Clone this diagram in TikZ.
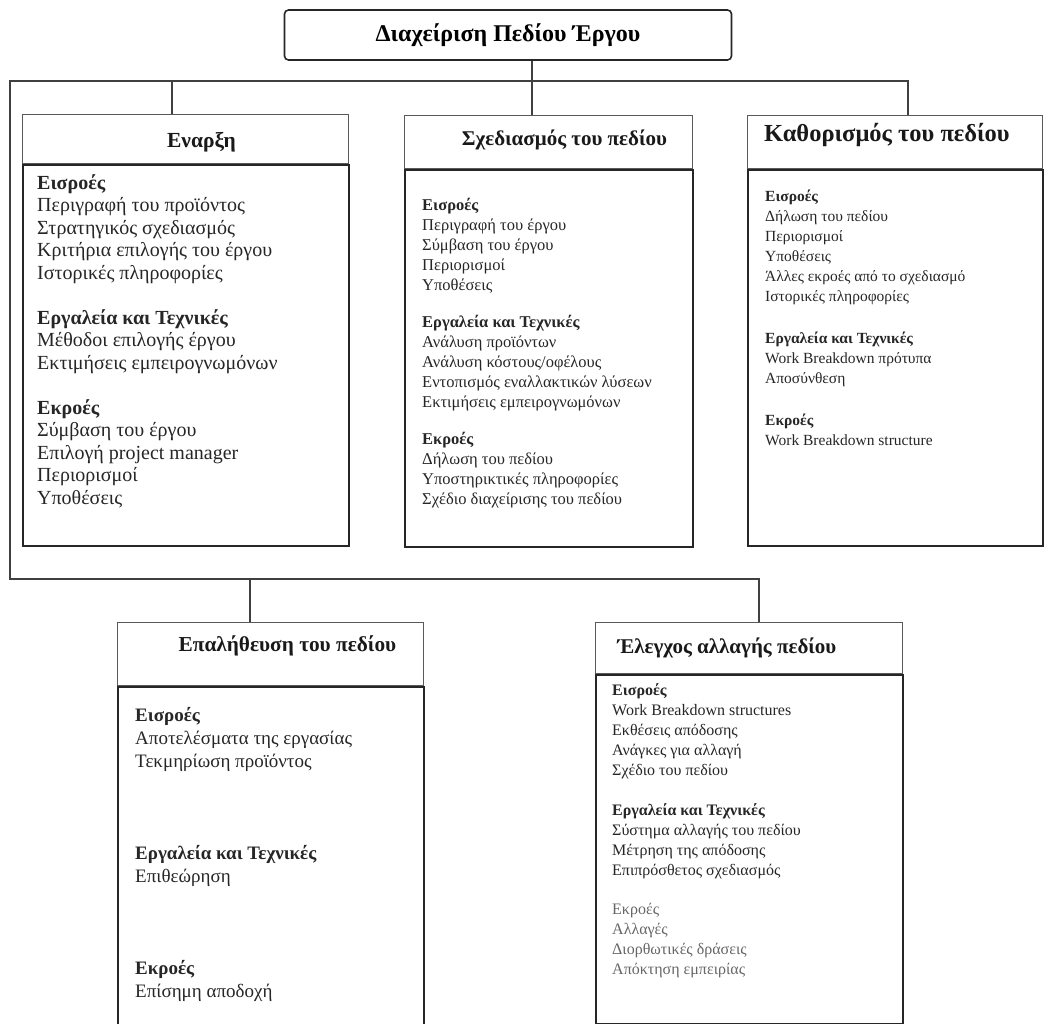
\documentclass[tikz,border=0pt]{standalone}
\usepackage{fontspec}
\setmainfont{Liberation Serif}
\usetikzlibrary{positioning}

\tikzset{
  hdr/.style={draw=black!65, line width=0.9pt, anchor=north west, inner sep=0pt},
  htxt/.style={inner sep=0pt, text=black!90},
  bodybox/.style={draw=black!85, line width=1.8pt, anchor=north west, inner sep=0pt},
  items/.style={anchor=north west, align=left, inner sep=0pt, text=black!85},
  link/.style={draw=black!75, line width=1.2pt},
  ttl/.style={draw=black!85, line width=1.6pt, rounded corners=4pt, inner sep=0pt,
    minimum width=447pt, minimum height=50pt, font=\bfseries\fontsize{24}{28}\selectfont},
}
\newcommand{\grp}[1]{\textbf{#1}}
\newcommand{\hfnt}[1]{\bfseries\fontsize{#1}{26}\selectfont}

\begin{document}
\begin{tikzpicture}[x=1pt,y=-1pt]
  \useasboundingbox (0,0) rectangle (1044,1024);

  % title
  \node[ttl] (tt) at (508,35) {Διαχείριση Πεδίου Έργου};

  % top row
  \node[hdr, minimum width=326pt, minimum height=49pt,
    label={[htxt, font=\hfnt{21.5}, xshift=16pt, yshift=-3pt]center:Εναρξη}] (enH) at (22,114) {};
  \node[bodybox, minimum width=326pt, minimum height=381pt] (enB) at (enH.south west) {};
  \node[items, font=\fontsize{20}{22.5}\selectfont] (enL) at (37,174)
    {\grp{Εισροές}\\ Περιγραφή του προϊόντος\\ Στρατηγικός σχεδιασμός\\
     Κριτήρια επιλογής του έργου\\ Ιστορικές πληροφορίες\\[22.5pt]
     \grp{Εργαλεία και Τεχνικές}\\ Μέθοδοι επιλογής έργου\\ Εκτιμήσεις εμπειρογνωμόνων\\[22.5pt]
     \grp{Εκροές}\\ Σύμβαση του έργου\\ Επιλογή project manager\\ Περιορισμοί\\ Υποθέσεις};

  \node[hdr, minimum width=288pt, minimum height=53pt,
    label={[htxt, font=\hfnt{21}, xshift=16pt, yshift=2pt]center:Σχεδιασμός του πεδίου}] (sxH) at (404,115) {};
  \node[bodybox, minimum width=288pt, minimum height=377pt] (sxB) at (sxH.south west) {};
  \node[items, font=\fontsize{16.5}{20}\selectfont] (sxL) at (422,198)
    {\grp{Εισροές}\\ Περιγραφή του έργου\\ Σύμβαση του έργου\\ Περιορισμοί\\ Υποθέσεις\\[17pt]
     \grp{Εργαλεία και Τεχνικές}\\ Ανάλυση προϊόντων\\ Ανάλυση κόστους/οφέλους\\
     Εντοπισμός εναλλακτικών λύσεων\\ Εκτιμήσεις εμπειρογνωμόνων\\[17pt]
     \grp{Εκροές}\\ Δήλωση του πεδίου\\ Υποστηρικτικές πληροφορίες\\ Σχέδιο διαχείρισης του πεδίου};

  \node[hdr, minimum width=295pt, minimum height=53pt,
    label={[htxt, font=\hfnt{24.5}, xshift=-8pt, yshift=7pt]center:Καθορισμός του πεδίου}] (kaH) at (747,115) {};
  \node[bodybox, minimum width=295pt, minimum height=376pt] (kaB) at (kaH.south west) {};
  \node[items, font=\fontsize{15.5}{20}\selectfont] (kaL) at (765,190)
    {\grp{Εισροές}\\ Δήλωση του πεδίου\\ Περιορισμοί\\ Υποθέσεις\\
     Άλλες εκροές από το σχεδιασμό\\ Ιστορικές πληροφορίες\\[22pt]
     \grp{Εργαλεία και Τεχνικές}\\ Work Breakdown πρότυπα\\ Αποσύνθεση\\[22pt]
     \grp{Εκροές}\\ Work Breakdown structure};

  % bottom row
  \node[hdr, minimum width=306pt, minimum height=63pt,
    label={[htxt, font=\hfnt{21.3}, xshift=17pt, yshift=8pt]center:Επαλήθευση του πεδίου}] (epH) at (117,622) {};
  \node[bodybox, minimum width=306pt, minimum height=350pt] (epB) at (epH.south west) {};
  \node[items, font=\fontsize{19}{23}\selectfont] (epL) at (135,707)
    {\grp{Εισροές}\\ Αποτελέσματα της εργασίας\\ Τεκμηρίωση προϊόντος\\[69pt]
     \grp{Εργαλεία και Τεχνικές}\\ Επιθεώρηση\\[69pt]
     \grp{Εκροές}\\ Επίσημη αποδοχή};

  \node[hdr, minimum width=307pt, minimum height=51pt,
    label={[htxt, font=\hfnt{21}, xshift=-22pt]center:Έλεγχος αλλαγής πεδίου}] (elH) at (595,622) {};
  \node[bodybox, minimum width=307pt, minimum height=349pt] (elB) at (elH.south west) {};
  \node[items, font=\fontsize{16}{20}\selectfont] (elL) at (612,683)
    {\grp{Εισροές}\\ Work Breakdown structures\\ Εκθέσεις απόδοσης\\ Ανάγκες για αλλαγή\\ Σχέδιο του πεδίου\\[20pt]
     \grp{Εργαλεία και Τεχνικές}\\ Σύστημα αλλαγής του πεδίου\\ Μέτρηση της απόδοσης\\ Επιπρόσθετος σχεδιασμός\\[19pt]
     {\color{black!60}Εκροές}\\ {\color{black!60}Αλλαγές}\\ {\color{black!60}Διορθωτικές δράσεις}\\ {\color{black!60}Απόκτηση εμπειρίας}};

  % rails
  \coordinate (rTL) at (10,81);
  \coordinate (rTR) at (908,81);
  \coordinate (rBL) at (10,579);
  \coordinate (rBR) at (759,579);
  \coordinate (jT) at (532,81);
  \coordinate (jE) at (172,81);
  \coordinate (jP) at (250,579);

  \draw[link] (kaH.north -| rTR) -- (rTR) -- (rTL) -- (rBL) -- (rBR) -- (elH.north -| rBR);
  \draw[link] (tt.south -| jT) -- (sxH.north -| jT);
  \draw[link] (jE) -- (enH.north -| jE);
  \draw[link] (jP) -- (epH.north -| jP);
\end{tikzpicture}
\end{document}
